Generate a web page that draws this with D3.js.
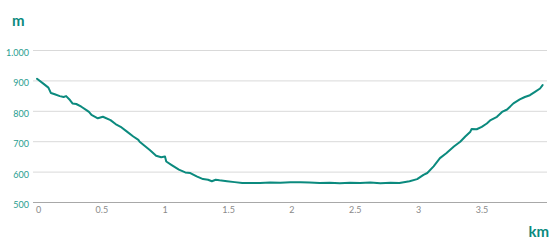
<!DOCTYPE html>
<html>
<head>
<meta charset="utf-8">
<title>Elevation profile</title>
<script src="https://cdn.jsdelivr.net/npm/d3@7"></script>
<style>
  body { margin: 0; background: #fff; }
  svg text { font-family: Lato, "Open Sans", sans-serif; }
</style>
</head>
<body>
<script>
// distance (km) and elevation (m)
let dist = [0, 0.05, 0.09, 0.11, 0.14, 0.18, 0.21, 0.23, 0.26, 0.28, 0.31, 0.35, 0.39, 0.41, 0.43,
    0.48, 0.52, 0.58, 0.62, 0.66, 0.71, 0.76, 0.80, 0.81, 0.89, 0.94, 0.98, 1.01, 1.02, 1.06,
    1.12, 1.17, 1.21, 1.26, 1.31, 1.35, 1.38, 1.41, 1.44, 1.50, 1.56, 1.62, 1.76, 1.84, 1.92,
    2.00, 2.08, 2.15, 2.23, 2.31, 2.39, 2.47, 2.55, 2.63, 2.71, 2.79, 2.86, 2.94, 3.00, 3.05,
    3.08, 3.13, 3.18, 3.23, 3.29, 3.34, 3.38, 3.42, 3.43, 3.47, 3.51, 3.55, 3.58, 3.63, 3.67,
    3.71, 3.76, 3.81, 3.85, 3.89, 3.93, 3.97, 3.99]
let elev = [907, 891, 878, 860, 856, 850, 847, 850, 837, 826, 824, 815, 804, 798, 788,
    777, 782, 771, 758, 749, 733, 717, 706, 700, 673, 654, 649, 651, 635, 624,
    608, 599, 597, 586, 577, 575, 570, 575, 573, 570, 567, 564, 564, 566, 565,
    567, 567, 566, 564, 565, 563, 565, 564, 566, 563, 565, 564, 570, 577, 591,
    597, 619, 646, 662, 684, 700, 717, 733, 742, 741, 749, 760, 771, 782, 798,
    806, 826, 839, 847, 853, 864, 875, 886]
let xTicks = [0, 0.5, 1, 1.5, 2, 2.5, 3, 3.5]
let yTicks = [500, 600, 700, 800, 900, 1000]

let width = 554, height = 245
let teal = '#0b8a7e'

let svg = d3.select('body').append('svg')
    .attr('width', width)
    .attr('height', height)

let x = d3.scaleLinear().domain([0, 3.5]).range([37, 480.5])
let y = d3.scaleLinear().domain([500, 1000]).range([202.5, 50.5])

let fmt = d3.formatLocale({decimal: ',', thousands: '.', grouping: [3], currency: ['', '€']}).format(',')

// grid
svg.append('g')
    .selectAll('line')
    .data(yTicks)
    .join('line')
    .attr('x1', 33).attr('x2', 547)
    .attr('y1', d => y(d)).attr('y2', d => y(d))
    .attr('stroke', d => d == 500 ? '#a8a8a8' : '#d9d9d9')
    .attr('stroke-width', d => d == 500 ? 1.2 : 1)

// y labels
svg.append('g')
    .selectAll('text')
    .data(yTicks)
    .join('text')
    .attr('x', 29)
    .attr('y', d => y(d) + 5.5)
    .attr('text-anchor', 'end')
    .attr('font-size', 9)
    .attr('fill', '#2a9d90')
    .text(d => fmt(d))

// x labels
svg.append('g')
    .selectAll('text')
    .data(xTicks)
    .join('text')
    .attr('x', d => x(d) + 1.5)
    .attr('y', 212.5)
    .attr('text-anchor', 'middle')
    .attr('font-size', 9)
    .attr('fill', '#8a8a8a')
    .text(d => String(d))

// unit titles
svg.append('text')
    .attr('x', 12).attr('y', 26)
    .attr('font-size', 15).attr('font-weight', 'bold')
    .attr('fill', teal)
    .text('m')
svg.append('text')
    .attr('x', 549).attr('y', 237)
    .attr('text-anchor', 'end')
    .attr('font-size', 15).attr('font-weight', 'bold')
    .attr('fill', teal)
    .text('km')

// profile line
let line = d3.line()
    .x((d, i) => x(dist[i]))
    .y(d => y(d))

svg.append('path')
    .datum(elev)
    .attr('d', line)
    .attr('fill', 'none')
    .attr('stroke', teal)
    .attr('stroke-width', 2)
    .attr('stroke-linejoin', 'round')
    .attr('stroke-linecap', 'round')
</script>
</body>
</html>
